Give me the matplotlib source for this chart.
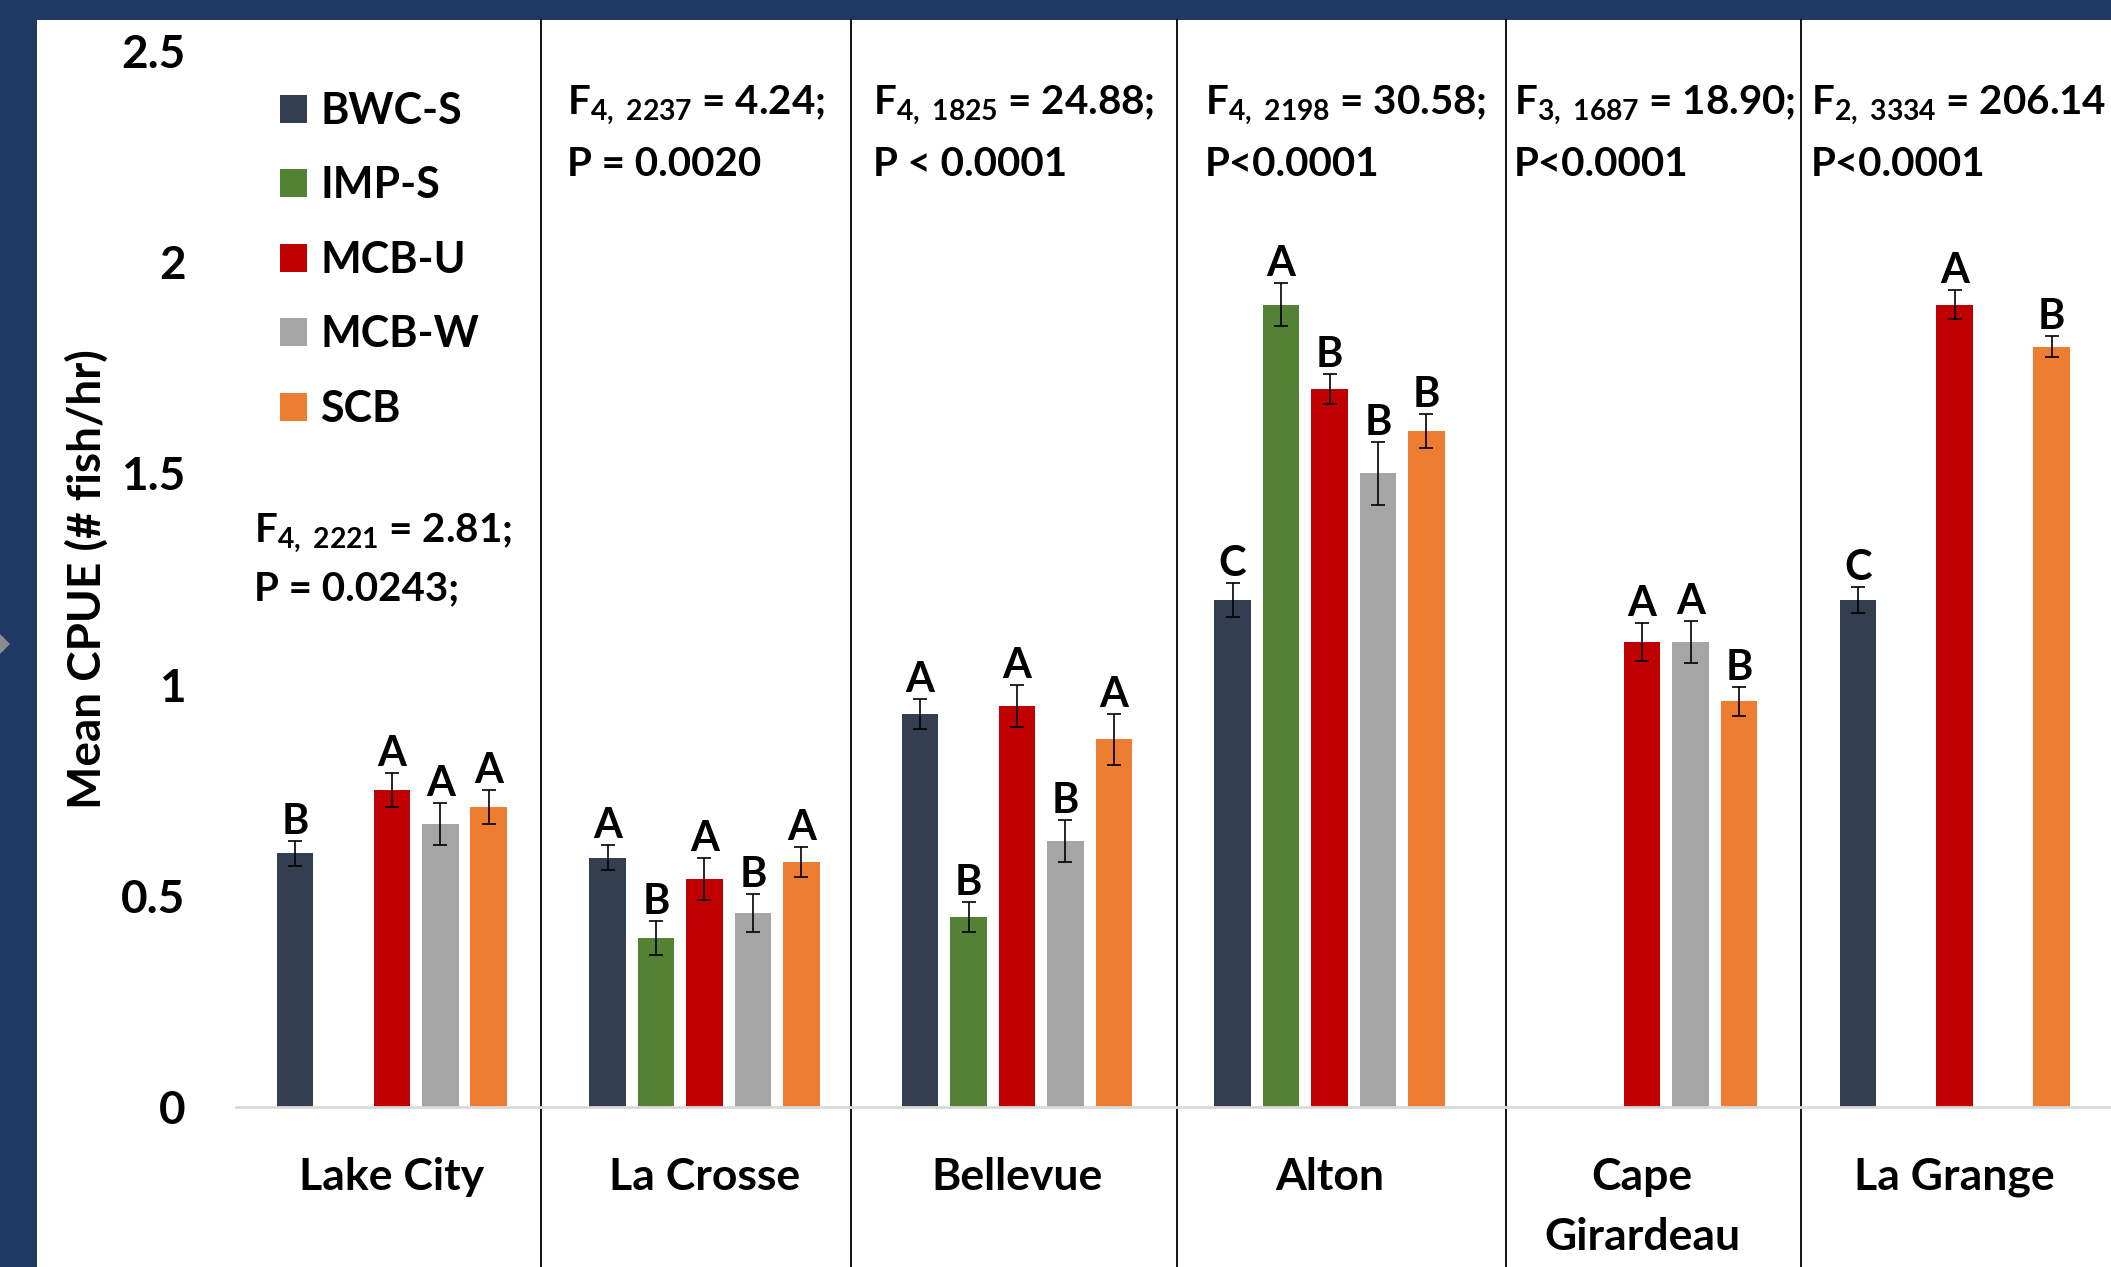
import numpy as np
import matplotlib.pyplot as plt
from matplotlib.patches import Rectangle, Polygon

plt.rcParams['font.family'] = ['Lato', 'DejaVu Sans']
plt.rcParams['font.weight'] = 'bold'
plt.rcParams['mathtext.fontset'] = 'custom'
plt.rcParams['mathtext.rm'] = 'Lato:bold'
plt.rcParams['mathtext.it'] = 'Lato:bold'
plt.rcParams['mathtext.bf'] = 'Lato:bold'
plt.rcParams['mathtext.default'] = 'rm'

nan = np.nan

sites = ["Lake City", "La Crosse", "Bellevue", "Alton", "Cape\nGirardeau", "La Grange"]
gears = ["BWC-S", "IMP-S", "MCB-U", "MCB-W", "SCB"]
colors = ["#333F50", "#548235", "#C00000", "#A5A5A5", "#ED7D31"]

# mean CPUE by gear at each site (nan = gear not fished there)
bwc_s = [0.60, 0.59, 0.93, 1.20, nan, 1.20]
imp_s = [nan, 0.40, 0.45, 1.90, nan, nan]
mcb_u = [0.75, 0.54, 0.95, 1.70, 1.10, 1.90]
mcb_w = [0.67, 0.46, 0.63, 1.50, 1.10, nan]
scb = [0.71, 0.58, 0.87, 1.60, 0.96, 1.80]

# standard errors
bwc_s_se = [0.03, 0.03, 0.035, 0.04, nan, 0.03]
imp_s_se = [nan, 0.04, 0.035, 0.05, nan, nan]
mcb_u_se = [0.04, 0.05, 0.05, 0.035, 0.045, 0.035]
mcb_w_se = [0.05, 0.045, 0.05, 0.075, 0.05, nan]
scb_se = [0.04, 0.035, 0.06, 0.04, 0.035, 0.025]

# Tukey groupings
bwc_s_grp = ["B", "A", "A", "C", "", "C"]
imp_s_grp = ["", "B", "B", "A", "", ""]
mcb_u_grp = ["A", "A", "A", "B", "A", "A"]
mcb_w_grp = ["A", "B", "B", "B", "A", ""]
scb_grp = ["A", "A", "A", "B", "B", "B"]

# ANOVA results per site
f_stats = [r"F$_{4,\ 2221}$ = 2.81;", r"F$_{4,\ 2237}$ = 4.24;", r"F$_{4,\ 1825}$ = 24.88;",
           r"F$_{4,\ 2198}$ = 30.58;", r"F$_{3,\ 1687}$ = 18.90;", r"F$_{2,\ 3334}$ = 206.14"]
p_stats = ["P = 0.0243;", "P = 0.0020", "P < 0.0001", "P<0.0001", "P<0.0001", "P<0.0001"]

means = [bwc_s, imp_s, mcb_u, mcb_w, scb]
errors = [bwc_s_se, imp_s_se, mcb_u_se, mcb_w_se, scb_se]
groups = [bwc_s_grp, imp_s_grp, mcb_u_grp, mcb_w_grp, scb_grp]

navy = "#203864"
W, H = 2111, 1267
fig = plt.figure(figsize=(W / 100, H / 100), dpi=100)
fig.patch.set_facecolor(navy)
fig.patches.append(Rectangle((37 / W, 0), 1, 1 - 20 / H, transform=fig.transFigure,
                             facecolor="white", edgecolor="none", zorder=-10))
fig.patches.append(Polygon([(0, 1 - 634 / H), (10 / W, 1 - 644 / H), (0, 1 - 654 / H)],
                           closed=True, transform=fig.transFigure, facecolor="#8C8C8C",
                           edgecolor="none", zorder=-5))

ax = fig.add_axes([0.1116, 0.1265, 0.8884, 0.8331])
ax.set_facecolor("none")
ax.set_zorder(2)

x = np.arange(len(sites))
step = 0.155
width = 0.117

for i, (m, e, g) in enumerate(zip(means, errors, groups)):
    m = np.array(m)
    e = np.array(e)
    pos = x + (i - 2) * step
    ok = ~np.isnan(m)
    ax.bar(pos[ok], m[ok], width, color=colors[i], label=gears[i], zorder=2)
    ax.errorbar(pos[ok], m[ok], yerr=e[ok], fmt="none", ecolor="black",
                elinewidth=1.2, capsize=5, capthick=1.2, zorder=3)
    for p, v, s, lab in zip(pos[ok], m[ok], e[ok], np.array(g)[ok]):
        ax.annotate(lab, (p, v + s), xytext=(0, 5), textcoords="offset points",
                    ha="center", va="baseline", fontsize=30, fontweight="bold")

ax.set_xlim(-0.5, 5.5)
ax.set_ylim(0, 2.5)
ax.set_yticks([0, 0.5, 1, 1.5, 2, 2.5])
ax.set_yticklabels(["0", "0.5", "1", "1.5", "2", "2.5"])
ax.set_xticks(x)
ax.set_xticklabels(sites, linespacing=1.6)
ax.tick_params(axis="y", length=0, pad=36, labelsize=33)
ax.tick_params(axis="x", length=0, pad=36, labelsize=32)
for side in ["top", "right", "left"]:
    ax.spines[side].set_visible(False)
ax.spines["bottom"].set_color("#D9D9D9")
ax.spines["bottom"].set_linewidth(2)

fig.text(87 / W, 0.543, "Mean CPUE (# fish/hr)", rotation=90, ha="center", va="center",
         fontsize=33, fontweight="bold")

# separators between sites
for sx in [0.478, 1.470, 2.513, 3.565, 4.507]:
    ax.axvline(sx, ymin=-0.152, ymax=1.0296, color="black", lw=1.3, clip_on=False, zorder=1)

# ANOVA text
text_x = [-0.44, 0.56, 1.54, 2.60, 3.59, 4.54]
for k, (tx, fstr, pstr) in enumerate(zip(text_x, f_stats, p_stats)):
    y1, y2 = (1.336, 1.199) if k == 0 else (2.351, 2.204)
    ax.text(tx, y1, fstr, ha="left", va="baseline", fontsize=29, fontweight="bold")
    ax.text(tx, y2, pstr, ha="left", va="baseline", fontsize=29, fontweight="bold")

ax.legend(loc="upper left", bbox_to_anchor=(280 / W, 1 - 91 / H), bbox_transform=fig.transFigure,
          frameon=False, fontsize=31, handlelength=0.63, handleheight=0.63,
          handletextpad=0.31, labelspacing=0.8, borderpad=0, borderaxespad=0)

fig.savefig("out.png", dpi=100, facecolor=fig.get_facecolor())
